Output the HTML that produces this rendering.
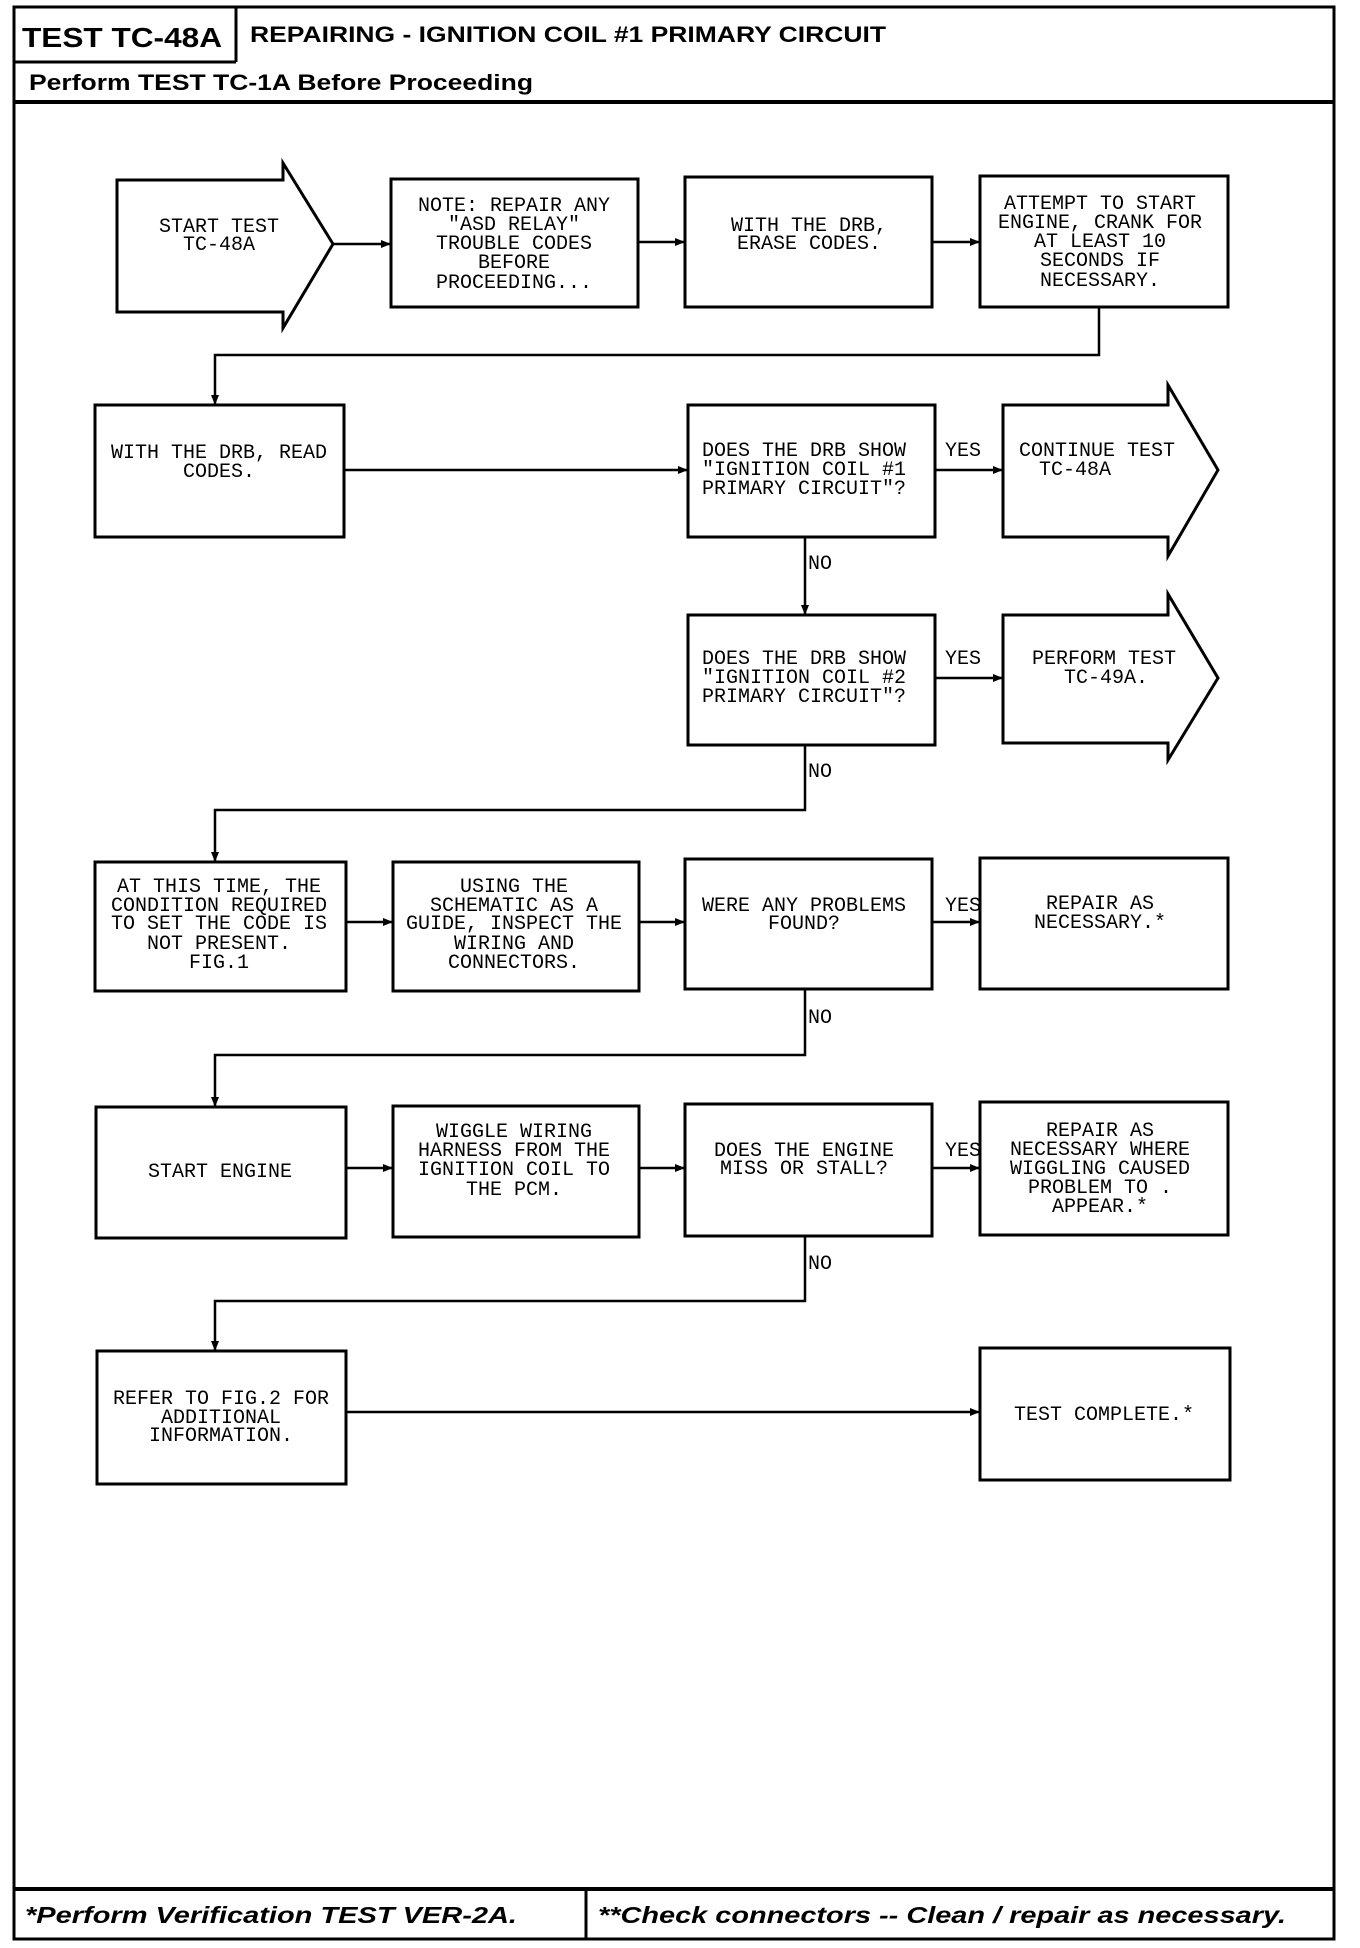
<!DOCTYPE html>
<html><head><meta charset="utf-8"><style>
html,body{margin:0;padding:0;background:#fff;}
svg{display:block;}
.t{font-family:"Liberation Mono",monospace;font-size:20px;fill:#000;text-anchor:middle;}
.h{font-family:"Liberation Sans",sans-serif;font-weight:bold;fill:#000;}
.f{font-family:"Liberation Sans",sans-serif;font-weight:bold;font-style:italic;font-size:23px;fill:#000;}
</style></head><body>
<svg width="1360" height="1948" viewBox="0 0 1360 1948" xmlns="http://www.w3.org/2000/svg">
<defs><marker id="a" markerWidth="10" markerHeight="10" refX="9" refY="5" orient="auto" markerUnits="userSpaceOnUse"><path d="M0,1 L10,5 L0,9 z" fill="#000"/></marker></defs>
<g fill="none" stroke="#000">
<rect x="14" y="7" width="1320" height="1932" stroke-width="3"/>
<line x1="14" y1="62" x2="236" y2="62" stroke-width="3"/>
<line x1="236" y1="7" x2="236" y2="62" stroke-width="3"/>
<line x1="14" y1="102" x2="1334" y2="102" stroke-width="4"/>
<line x1="14" y1="1889" x2="1334" y2="1889" stroke-width="4"/>
<line x1="586" y1="1889" x2="586" y2="1939" stroke-width="3"/>
</g>
<text class="h" x="22" y="47" font-size="28" textLength="200" lengthAdjust="spacingAndGlyphs">TEST TC-48A</text>
<text class="h" x="250" y="42" font-size="22" textLength="636" lengthAdjust="spacingAndGlyphs">REPAIRING - IGNITION COIL #1 PRIMARY CIRCUIT</text>
<text class="h" x="29" y="90" font-size="22" textLength="504" lengthAdjust="spacingAndGlyphs">Perform TEST TC-1A Before Proceeding</text>
<text class="f" x="25" y="1923" textLength="492" lengthAdjust="spacingAndGlyphs">*Perform Verification TEST VER-2A.</text>
<text class="f" x="598" y="1923" textLength="688" lengthAdjust="spacingAndGlyphs">**Check connectors -- Clean / repair as necessary.</text>

<g fill="#fff" stroke="#000" stroke-width="3">
<polygon points="117,180 283,180 283,163 333,244 283,328 283,312 117,312"/>
<rect x="391" y="179" width="247" height="128"/>
<rect x="685" y="177" width="247" height="130"/>
<rect x="980" y="176" width="248" height="131"/>
<rect x="95" y="405" width="249" height="132"/>
<rect x="688" y="405" width="247" height="132"/>
<polygon points="1003,405 1168,405 1168,385 1218,470 1168,556 1168,537 1003,537"/>
<rect x="688" y="615" width="247" height="130"/>
<polygon points="1003,615 1168,615 1168,594 1218,678 1168,760 1168,743 1003,743"/>
<rect x="95" y="862" width="251" height="129"/>
<rect x="393" y="862" width="246" height="129"/>
<rect x="685" y="859" width="247" height="130"/>
<rect x="980" y="858" width="248" height="131"/>
<rect x="96" y="1107" width="250" height="131"/>
<rect x="393" y="1106" width="246" height="131"/>
<rect x="685" y="1104" width="247" height="132"/>
<rect x="980" y="1102" width="248" height="133"/>
<rect x="97" y="1351" width="249" height="133"/>
<rect x="980" y="1348" width="250" height="132"/>
</g>

<g fill="none" stroke="#000" stroke-width="2.5" marker-end="url(#a)">
<line x1="333" y1="244" x2="390" y2="244"/>
<line x1="638" y1="242" x2="684" y2="242"/>
<line x1="932" y1="242" x2="979" y2="242"/>
<polyline points="1099,307 1099,355 215,355 215,404"/>
<line x1="344" y1="470" x2="687" y2="470"/>
<line x1="935" y1="470" x2="1002" y2="470"/>
<line x1="805" y1="537" x2="805" y2="614"/>
<line x1="935" y1="678" x2="1002" y2="678"/>
<polyline points="805,745 805,810 215,810 215,861"/>
<line x1="346" y1="922" x2="392" y2="922"/>
<line x1="639" y1="922" x2="684" y2="922"/>
<line x1="932" y1="922" x2="979" y2="922"/>
<polyline points="805,989 805,1055 215,1055 215,1106"/>
<line x1="346" y1="1168" x2="392" y2="1168"/>
<line x1="639" y1="1168" x2="684" y2="1168"/>
<line x1="932" y1="1168" x2="979" y2="1168"/>
<polyline points="805,1236 805,1301 215,1301 215,1350"/>
<line x1="346" y1="1412" x2="979" y2="1412"/>
</g>

<g class="t">
<text x="219" y="232">START TEST</text><text x="219" y="250">TC-48A</text>
<text x="514" y="211">NOTE: REPAIR ANY</text><text x="514" y="230">"ASD RELAY"</text><text x="514" y="249">TROUBLE CODES</text><text x="514" y="268">BEFORE</text><text x="514" y="288">PROCEEDING...</text>
<text x="809" y="231">WITH THE DRB,</text><text x="809" y="249">ERASE CODES.</text>
<text x="1100" y="209">ATTEMPT TO START</text><text x="1100" y="228">ENGINE, CRANK FOR</text><text x="1100" y="247">AT LEAST 10</text><text x="1100" y="266">SECONDS IF</text><text x="1100" y="286">NECESSARY.</text>
<text x="219" y="458">WITH THE DRB, READ</text><text x="219" y="477">CODES.</text>
<text x="804" y="456">DOES THE DRB SHOW</text><text x="804" y="475">"IGNITION COIL #1</text><text x="804" y="494">PRIMARY CIRCUIT"?</text>
<text x="963" y="456">YES</text>
<text x="1097" y="456">CONTINUE TEST</text><text x="1075" y="475">TC-48A</text>
<text x="804" y="664">DOES THE DRB SHOW</text><text x="804" y="683">"IGNITION COIL #2</text><text x="804" y="702">PRIMARY CIRCUIT"?</text>
<text x="963" y="664">YES</text>
<text x="1104" y="664">PERFORM TEST</text><text x="1106" y="683">TC-49A.</text>
<text x="820" y="569">NO</text><text x="820" y="777">NO</text><text x="820" y="1023">NO</text><text x="820" y="1269">NO</text>
<text x="219" y="892">AT THIS TIME, THE</text><text x="219" y="911">CONDITION REQUIRED</text><text x="219" y="929">TO SET THE CODE IS</text><text x="219" y="949">NOT PRESENT.</text><text x="219" y="968">FIG.1</text>
<text x="514" y="892">USING THE</text><text x="514" y="911">SCHEMATIC AS A</text><text x="514" y="929">GUIDE, INSPECT THE</text><text x="514" y="949">WIRING AND</text><text x="514" y="968">CONNECTORS.</text>
<text x="804" y="911">WERE ANY PROBLEMS</text><text x="804" y="929">FOUND?</text>
<text x="963" y="911">YES</text>
<text x="1100" y="909">REPAIR AS</text><text x="1100" y="928">NECESSARY.*</text>
<text x="220" y="1177">START ENGINE</text>
<text x="514" y="1137">WIGGLE WIRING</text><text x="514" y="1156">HARNESS FROM THE</text><text x="514" y="1175">IGNITION COIL TO</text><text x="514" y="1195">THE PCM.</text>
<text x="804" y="1156">DOES THE ENGINE</text><text x="804" y="1174">MISS OR STALL?</text>
<text x="963" y="1156">YES</text>
<text x="1100" y="1136">REPAIR AS</text><text x="1100" y="1155">NECESSARY WHERE</text><text x="1100" y="1174">WIGGLING CAUSED</text><text x="1100" y="1193">PROBLEM TO .</text><text x="1100" y="1212">APPEAR.*</text>
<text x="221" y="1404">REFER TO FIG.2 FOR</text><text x="221" y="1423">ADDITIONAL</text><text x="221" y="1441">INFORMATION.</text>
<text x="1104" y="1420">TEST COMPLETE.*</text>
</g>
</svg>
</body></html>
